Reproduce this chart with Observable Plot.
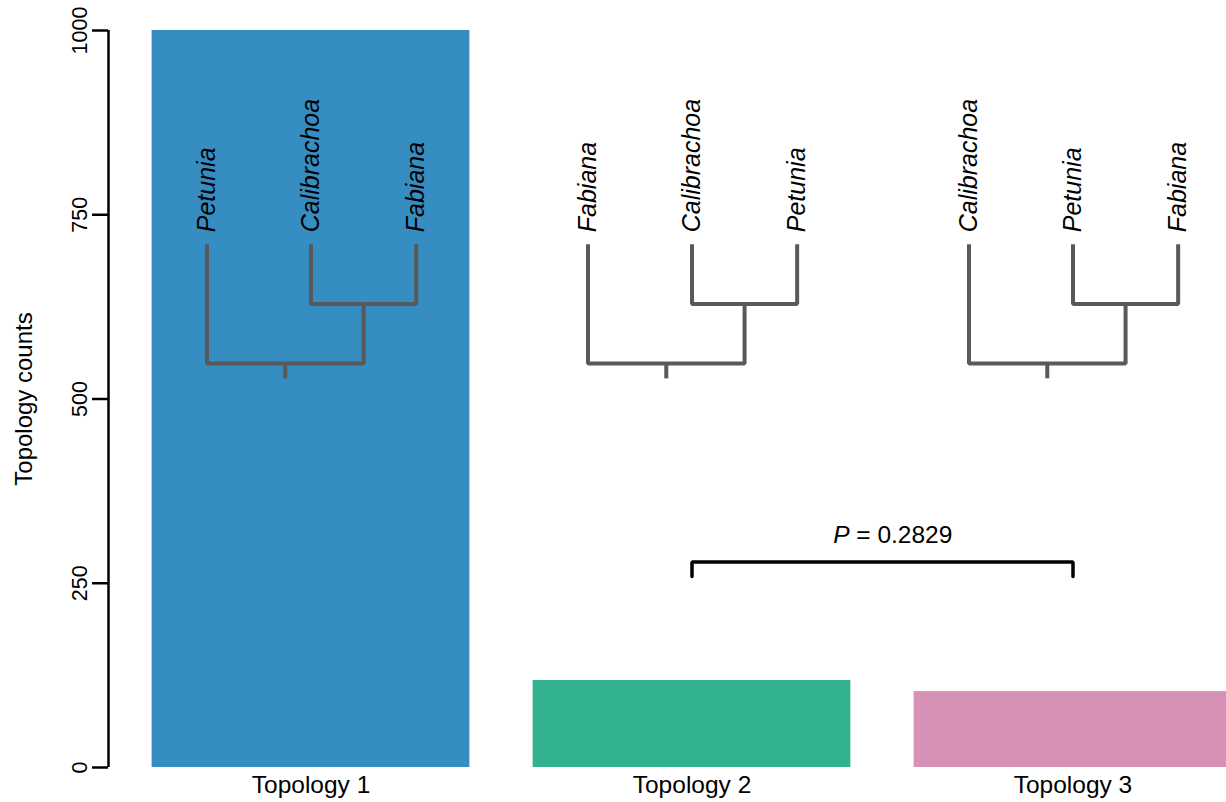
<!DOCTYPE html>
<html>
<head>
<meta charset="utf-8">
<script src="https://cdn.jsdelivr.net/npm/d3@7"></script>
<script src="https://cdn.jsdelivr.net/npm/@observablehq/plot@0.6"></script>
<style>
  html, body { margin: 0; padding: 0; background: #fff; }
  #chart svg { display: block; }
</style>
</head>
<body>
<div id="chart"></div>
<script>
// ---- data ----
const categories = ["Topology 1", "Topology 2", "Topology 3"];
const counts = [1000, 118, 103];
const barColors = ["#368dc1", "#33b28f", "#d592b6"];
const topologies = [
  ["Petunia", "Calibrachoa", "Fabiana"],
  ["Fabiana", "Calibrachoa", "Petunia"],
  ["Calibrachoa", "Petunia", "Fabiana"]
];
const yTicks = [0, 250, 500, 750, 1000];
const pLabel = "0.2829";
const compared = [2, 3]; // Topology 2 vs Topology 3

// ---- layout constants ----
const W = 1226, H = 802;
const font = "'Liberation Sans', Arial, sans-serif";
const halfBar = 0.417;
const tipOffsets = [-0.273, 0, 0.276];
const tipY = 710, nodeY = 629, rootY = 548, stubY = 528;
const bracketY = 279, bracketEnd = 259;

const bars = categories.map((c, i) => ({cat: c, pos: i + 1, value: counts[i], color: barColors[i]}));

// tree polylines
const treeLines = [];
const treeLabels = [];
topologies.forEach((tips, i) => {
  const c = i + 1;
  const xs = tipOffsets.map(o => c + o);
  const xm = (xs[1] + xs[2]) / 2;
  const xr = (xs[0] + xm) / 2;
  const pA = [[xs[0], tipY], [xs[0], rootY], [xm, rootY], [xm, nodeY], [xs[1], nodeY], [xs[1], tipY]];
  const pB = [[xs[2], tipY], [xs[2], nodeY], [xm, nodeY]];
  const pC = [[xr, rootY], [xr, stubY]];
  [pA, pB, pC].forEach((p, k) => p.forEach(([x, y]) => treeLines.push({z: `${i}-${k}`, x, y})));
  tips.forEach((t, j) => treeLabels.push({name: t, x: xs[j], y: tipY}));
});

const bracket = [
  {x: compared[0], y: bracketEnd}, {x: compared[0], y: bracketY},
  {x: compared[1], y: bracketY}, {x: compared[1], y: bracketEnd}
];
const mid = [{x: (compared[0] + compared[1]) / 2, y: bracketY}];

const x0 = 0.4685, x1 = 3.4029;

const chart = Plot.plot({
  width: W,
  height: H,
  marginLeft: 108,
  marginRight: 0,
  marginTop: 30,
  marginBottom: 35,
  style: {fontFamily: font, background: "#fff", color: "#000"},
  x: {domain: [x0, x1]},
  y: {domain: [0, 1000]},
  marks: [
    Plot.rect(bars, {x1: d => d.pos - halfBar, x2: d => d.pos + halfBar, y1: 0, y2: "value", fill: "color", clip: true}),
    Plot.line(treeLines, {x: "x", y: "y", z: "z", stroke: "#595959", strokeWidth: 4, strokeLinejoin: "miter", strokeLinecap: "butt"}),
    Plot.text(treeLabels, {x: "x", y: "y", text: "name", rotate: -90, textAnchor: "start", lineAnchor: "middle", dy: -12, fontSize: 25, fontStyle: "italic", fill: "#000"}),
    Plot.line(bracket, {x: "x", y: "y", stroke: "#000", strokeWidth: 3.5, strokeLinejoin: "miter"}),
    Plot.text(mid, {x: "x", y: "y", text: () => "P", textAnchor: "end", lineAnchor: "middle", dx: -33, dy: -27, fontSize: 24.5, fontStyle: "italic", fill: "#000"}),
    Plot.text(mid, {x: "x", y: "y", text: () => " = " + pLabel, textAnchor: "start", lineAnchor: "middle", dx: -33, dy: -27, fontSize: 24.5, fill: "#000"}),
    // y axis
    Plot.ruleX([x0], {y1: 0, y2: 1000, stroke: "#000", strokeWidth: 2.5}),
    Plot.axisY({ticks: yTicks, tickFormat: d => String(d), tickSize: 16, tickRotate: -90, tickPadding: 6, fontSize: 21.5, stroke: "#000", strokeWidth: 2.5, label: null}),
    Plot.text([500], {x: x0, y: d => d, text: () => "Topology counts", rotate: -90, textAnchor: "middle", lineAnchor: "middle", dx: -84, fontSize: 24, fill: "#000"}),
    // x axis labels
    Plot.axisX({ticks: [1, 2, 3], tickFormat: d => categories[d - 1], tickSize: 0, tickPadding: 8, fontSize: 24.5, label: null})
  ]
});
document.getElementById("chart").appendChild(chart);
</script>
</body>
</html>
